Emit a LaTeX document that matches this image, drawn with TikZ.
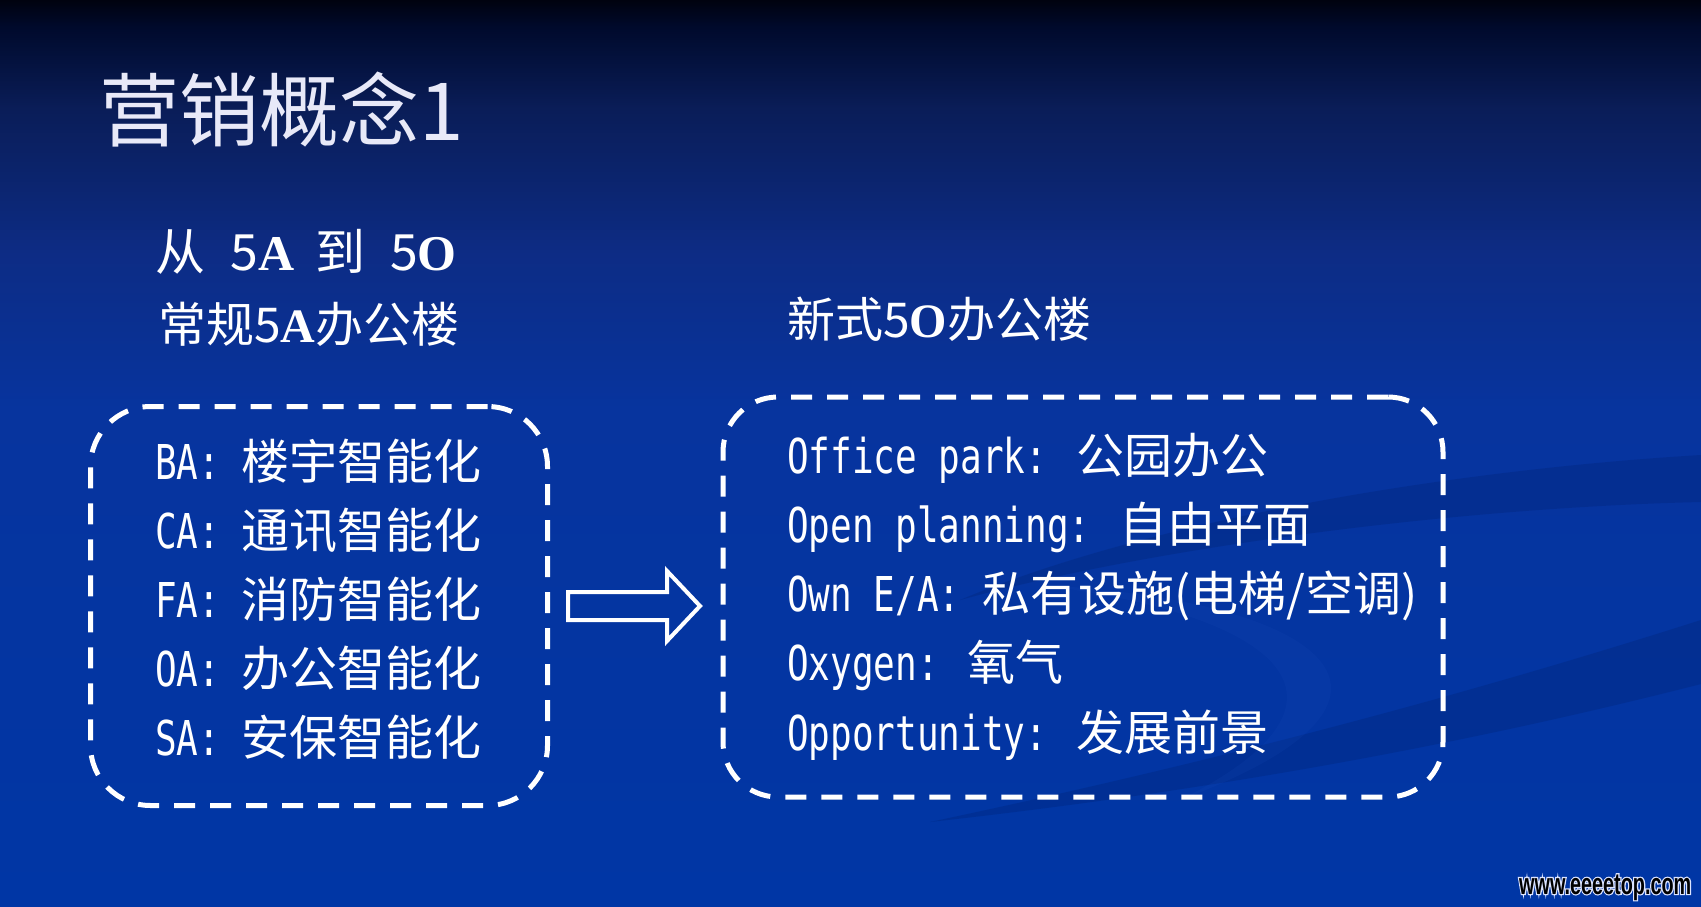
\documentclass[tikz,border=0pt]{standalone}
\usepackage{fontspec}
\newfontfamily\cjk{Noto Sans CJK SC}
\newfontfamily\mono[FakeStretch=0.75]{DejaVu Sans Mono}
\newfontfamily\tms{Liberation Serif}
\newfontfamily\wmfont[FakeStretch=0.66]{Liberation Sans Bold}
\newfontfamily\wmback[FakeStretch=0.66,FakeBold=8]{Liberation Sans Bold}
\definecolor{bgtop}{HTML}{00020F}
\definecolor{bgdark}{HTML}{000A2C}
\definecolor{bgup}{HTML}{0A1D58}
\definecolor{bgmidA}{HTML}{0D2C85}
\definecolor{bgmidB}{HTML}{07349E}
\definecolor{bgbot}{HTML}{0036A5}
\definecolor{titlecol}{HTML}{E8E9F8}
\definecolor{swdark}{HTML}{001A60}
\definecolor{swlight}{HTML}{2050C0}
\definecolor{wmline}{HTML}{DCE4FF}
\pgfdeclareverticalshading{slidebg}{100bp}{color(0bp)=(bgbot); color(25bp)=(bgbot); color(52.5bp)=(bgmidB); color(61bp)=(bgmidA); color(69bp)=(bgup); color(73.5bp)=(bgdark); color(75bp)=(bgtop); color(100bp)=(bgtop)}
\tikzset{
  txt/.style={anchor=base west, inner sep=0pt, text=white},
  big/.style={font=\cjk\fontsize{48}{48}\selectfont},
  dbox/.style={draw=white, line width=5pt, dash pattern=on 21pt off 15pt, inner sep=0pt},
  blockarrow/.style={draw=white, line width=4pt, line join=miter}
}
\begin{document}
\begin{tikzpicture}[x=1pt,y=-1pt]
\useasboundingbox (0,0) rectangle (1701,907);
\shade[shading=slidebg] (0,0) rectangle (1701,907);
% faint swoosh of the template
\fill[swdark, opacity=0.22] (1701,455) .. controls (1450,470) and (1150,520) .. (960,600) .. controls (1150,548) and (1450,508) .. (1701,502) -- cycle;
\fill[swdark, opacity=0.22] (1701,620) .. controls (1450,700) and (1200,765) .. (930,822) .. controls (1200,792) and (1450,748) .. (1701,684) -- cycle;
\fill[swlight, opacity=0.12] (1040,585) .. controls (1330,600) and (1450,700) .. (1180,800) .. controls (1380,700) and (1280,615) .. (1040,585) -- cycle;

% title and headings
\node[txt, text=titlecol, font=\cjk\fontsize{80}{80}\selectfont] (title) at (99,140) {营销概念1};
\node[txt, font=\cjk\fontsize{50}{50}\selectfont] (head) at (155,270) {从\hspace{25.5pt}5{\tms\bfseries A}\hspace{20.5pt}到\hspace{25pt}5{\tms\bfseries O}};
\node[txt, big] (lhead) at (158,342) {常规5{\tms\bfseries A}办公楼};
\node[txt, big] (rhead) at (787,337) {新式5{\tms\bfseries O}办公楼};

% dashed boxes
\node[dbox, rounded corners=60pt, minimum width=457pt, minimum height=399pt] (lbox) at (319,606) {};
\node[dbox, rounded corners=55pt, minimum width=720pt, minimum height=400pt] (rbox) at (1083,597) {};

% left list
\node[txt, big] (l1) at (155,479) {{\mono BA: }楼宇智能化};
\node[txt, big] (l2) at (155,548) {{\mono CA: }通讯智能化};
\node[txt, big] (l3) at (155,617) {{\mono FA: }消防智能化};
\node[txt, big] (l4) at (155,686) {{\mono OA: }办公智能化};
\node[txt, big] (l5) at (155,755) {{\mono SA: }安保智能化};

% right list
\node[txt, big] (r1) at (787,473) {{\mono Office park: }公园办公};
\node[txt, big] (r2) at (787,542) {{\mono Open planning: }自由平面};
\node[txt, big] (r3) at (787,611) {{\mono Own E/A: }私有设施(电梯/空调)};
\node[txt, big] (r4) at (787,680) {{\mono Oxygen: }氧气};
\node[txt, big] (r5) at (787,750) {{\mono Opportunity: }发展前景};

% hollow block arrow between the boxes
\draw[blockarrow] (568,592) -- (667,592) -- (667,571) -- (700,606) -- (667,641) -- (667,620) -- (568,620) -- cycle;

% watermark
\node[txt, text=wmline, font=\wmback\fontsize{30}{30}\selectfont] (wmb) at (1519,894) {www.eeeetop.com};
\node[txt, text=black, font=\wmfont\fontsize{30}{30}\selectfont] (wm) at (1519,894) {www.eeeetop.com};
\end{tikzpicture}
\end{document}
